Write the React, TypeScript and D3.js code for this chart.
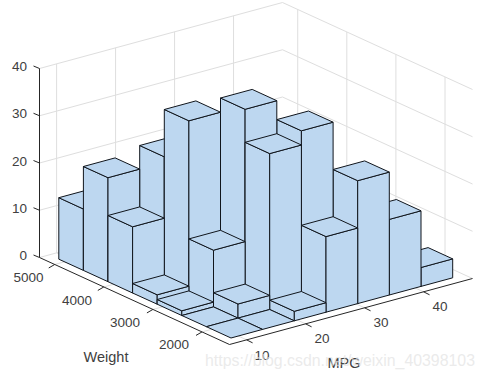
import React from "react";
import * as d3 from "d3";

const mpgEdges = [8.83, 14.2, 19.57, 24.94, 30.31, 35.68, 41.05, 46.42];
const weightEdges = [1628, 2129, 2630, 3131, 3632, 4133, 4634, 5135];

// counts, one array per MPG bin; index = Weight bin (light to heavy)
const mpgBin0 = [0, 0, 1, 2, 14, 22, 13];
const mpgBin1 = [0, 3, 12, 37, 27, 10, 3];
const mpgBin2 = [2, 33, 40, 20, 6, 1, 0];
const mpgBin3 = [16, 36, 15, 8, 1, 0, 0];
const mpgBin4 = [26, 13, 4, 0, 0, 0, 0];
const mpgBin5 = [16, 6, 0, 0, 0, 0, 0];
const mpgBin6 = [4, 0, 0, 0, 0, 0, 0];
const counts = [mpgBin0, mpgBin1, mpgBin2, mpgBin3, mpgBin4, mpgBin5, mpgBin6];

const mpgTicks = [10, 20, 30, 40];
const weightTicks = [2000, 3000, 4000, 5000];
const zTicks = [0, 10, 20, 30, 40];

const mpgDomain = [7.1, 48.3];
const weightDomain = [1440, 5310];
const zDomain = [0, 40];

const front = [229.5, 344.5];
const sx = d3.scaleLinear().domain(mpgDomain).range([0, 1]);
const sy = d3.scaleLinear().domain(weightDomain).range([0, 1]);
const sz = d3.scaleLinear().domain(zDomain).range([0, 189]);

const P = (x: number, y: number, z: number): [number, number] => [
  front[0] + sx(x) * 243 - sy(y) * 190,
  front[1] - sx(x) * 66 - sy(y) * 87 - sz(z),
];
const poly = (pts: [number, number][]) => pts.map((p) => p.map((v) => v.toFixed(1)).join(",")).join(" ");
const line = (a: [number, number], b: [number, number]) => ({ x1: a[0], y1: a[1], x2: b[0], y2: b[1] });

const FONT = "'Liberation Sans', Arial, Helvetica, sans-serif";
const TXT = "#404040";
const GRID = "#dedede";
const AX = "#262626";
const FILL = "#bdd7f0";
const EDGE = "#10151c";

const [x0, x1] = mpgDomain;
const [y0, y1] = weightDomain;

const mpgLabelPos: Record<number, [number, number]> = { 10: [262, 355], 20: [322, 338], 30: [381, 322], 40: [440, 306] };
const weightLabelPos: Record<number, [number, number]> = { 5000: [28.5, 277], 4000: [77, 300], 3000: [125, 322], 2000: [174, 344] };

export default function App() {
  const bars: React.ReactNode[] = [];
  for (let i = counts.length - 1; i >= 0; i--) {
    for (let j = counts[i].length - 1; j >= 0; j--) {
      const h = counts[i][j];
      const a = mpgEdges[i], b = mpgEdges[i + 1], c = weightEdges[j], d = weightEdges[j + 1];
      const faces: [number, number][][] = [];
      if (h > 0) {
        faces.push([P(a, c, 0), P(a, d, 0), P(a, d, h), P(a, c, h)]);
        faces.push([P(a, c, 0), P(b, c, 0), P(b, c, h), P(a, c, h)]);
      }
      faces.push([P(a, c, h), P(b, c, h), P(b, d, h), P(a, d, h)]);
      bars.push(
        <g key={`${i}-${j}`}>
          {faces.map((f, k) => (
            <polygon key={k} points={poly(f)} fill={FILL} stroke={EDGE} strokeWidth={1} strokeLinejoin="round" />
          ))}
        </g>
      );
    }
  }
  return (
    <svg width={485} height={378} style={{ position: "absolute", left: 0, top: 0, background: "#fff" }} fontFamily={FONT}>
      {/* walls */}
      <g stroke={GRID} strokeWidth={1} fill="none">
        {zTicks.map((z) => (
          <g key={z}>
            <line {...line(P(x0, y1, z), P(x1, y1, z))} />
            <line {...line(P(x1, y1, z), P(x1, y0, z))} />
          </g>
        ))}
        {mpgTicks.map((t) => (
          <g key={t}>
            <line {...line(P(t, y1, 0), P(t, y1, 40))} />
            <line {...line(P(t, y0, 0), P(t, y1, 0))} />
          </g>
        ))}
        {weightTicks.map((t) => (
          <g key={t}>
            <line {...line(P(x1, t, 0), P(x1, t, 40))} />
            <line {...line(P(x0, t, 0), P(x1, t, 0))} />
          </g>
        ))}
      </g>
      {/* axes */}
      <g stroke={AX} strokeWidth={1} fill="none">
        <line {...line(P(x0, y1, 0), P(x0, y1, 40))} />
        <line {...line(P(x0, y1, 0), P(x0, y0, 0))} />
        <line {...line(P(x0, y0, 0), P(x1, y0, 0))} />
        {zTicks.map((z) => {
          const p = P(x0, y1, z);
          return <line key={z} x1={p[0]} y1={p[1]} x2={p[0] - 6} y2={p[1] - 2.5} />;
        })}
        {weightTicks.map((t) => {
          const p = P(x0, t, 0);
          return <line key={t} x1={p[0]} y1={p[1]} x2={p[0] - 6} y2={p[1] + 3.5} />;
        })}
        {mpgTicks.map((t) => {
          const p = P(t, y0, 0);
          return <line key={t} x1={p[0]} y1={p[1]} x2={p[0] + 6} y2={p[1] + 3} />;
        })}
      </g>
      <g transform="translate(0.5,0.5)">{bars}</g>
      {/* tick labels */}
      <g fill={TXT} fontSize={13.5} dominantBaseline="central">
        {zTicks.map((z) => (
          <text key={z} x={27} y={P(x0, y1, z)[1] - 2} textAnchor="end">{z}</text>
        ))}
        {weightTicks.map((t) => (
          <text key={t} x={weightLabelPos[t][0]} y={weightLabelPos[t][1]} textAnchor="middle">{t}</text>
        ))}
        {mpgTicks.map((t) => (
          <text key={t} x={mpgLabelPos[t][0]} y={mpgLabelPos[t][1]} textAnchor="middle">{t}</text>
        ))}
      </g>
      <g fill={TXT} fontSize={14.5} dominantBaseline="central" textAnchor="middle">
        <text x={106} y={357}>Weight</text>
        <text x={344} y={363}>MPG</text>
      </g>
      <text x={205} y={366} fontSize={16} fill="#e2e2e2" fillOpacity={0.7} textLength={270} lengthAdjust="spacingAndGlyphs">https://blog.csdn.net/weixin_40398103</text>
    </svg>
  );
}
